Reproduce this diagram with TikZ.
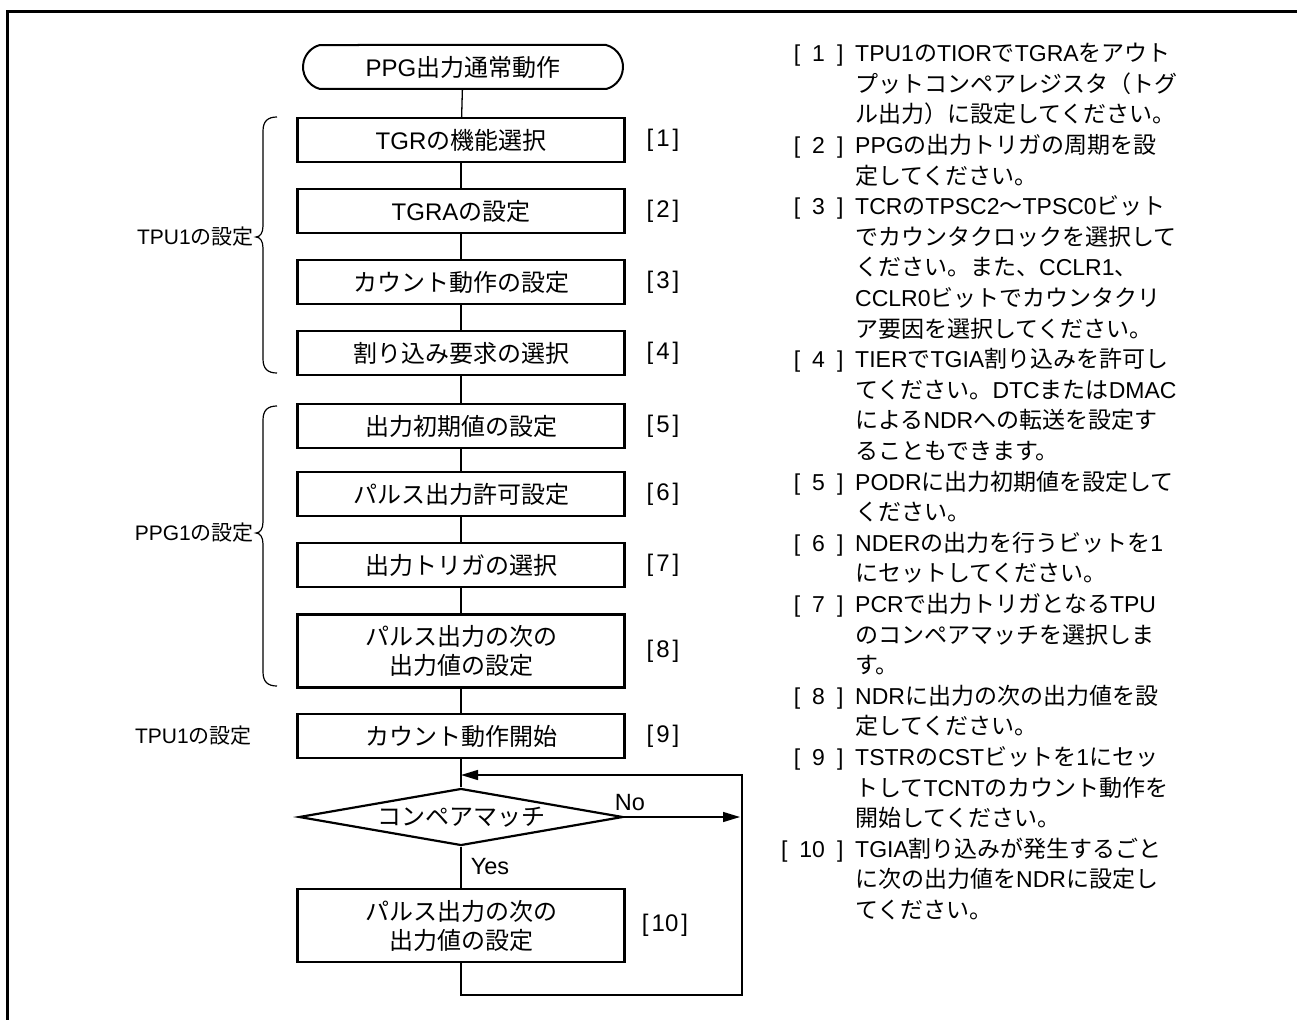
\documentclass[tikz,border=0pt]{standalone}
\usepackage{fontspec}
\setmainfont{Liberation Sans}
\newfontfamily\jpf{Noto Sans CJK JP}
\newfontfamily\latf{Liberation Sans}
\usetikzlibrary{shapes.geometric,shapes.misc,arrows.meta}
\newXeTeXintercharclass\jpcls
\newcount\cpt
\cpt="3000 \loop \XeTeXcharclass\cpt=\jpcls \advance\cpt by 1 \ifnum\cpt<"3100 \repeat
\cpt="4E00 \loop \XeTeXcharclass\cpt=\jpcls \advance\cpt by 1 \ifnum\cpt<"A000 \repeat
\cpt="FF00 \loop \XeTeXcharclass\cpt=\jpcls \advance\cpt by 1 \ifnum\cpt<"FFF0 \repeat
\XeTeXinterchartoks 0 \jpcls = {\jpf}
\XeTeXinterchartoks 4095 \jpcls = {\jpf}
\XeTeXinterchartoks \jpcls 0 = {\latf}
\XeTeXinterchartokenstate=1
\tikzset{
 box/.style={draw, line width=2.2pt, minimum width=327pt, minimum height=44pt, inner sep=0pt, align=center, font=\fontsize{24}{29}\selectfont},
 tall/.style={minimum height=73pt},
 term/.style={draw, line width=2pt, rounded rectangle, rounded rectangle arc length=150, minimum width=320pt, minimum height=44pt, inner sep=0pt, font=\fontsize{24}{29}\selectfont},
 dia/.style={draw, diamond, aspect=5.68, line width=2.2pt, minimum width=324pt, minimum height=57pt, inner sep=0pt, font=\fontsize{24}{29}\selectfont},
 conn/.style={line width=1.3pt},
 arr/.style={-{Triangle[length=17pt,width=10pt]}},
 blbl/.style={font=\fontsize{24}{29}\selectfont, inner sep=0pt},
 yn/.style={font=\fontsize{23.5}{28}\selectfont, inner sep=0pt},
 side/.style={font=\fontsize{21}{26}\selectfont, inner sep=0pt, anchor=east},
 rtxt/.style={font=\fontsize{23}{30}\selectfont, inner sep=0pt, anchor=base west},
 rlab/.style={font=\fontsize{23}{30}\selectfont, inner sep=0pt, anchor=base east},
 brc/.style={line width=1.2pt},
 frm/.style={line width=2.6pt},
}
\newcommand\rl[2]{\node[rtxt] (r#1) at (855,{61.7+30.6*#1}) {#2};}
\newcommand\rn[2]{\node[rlab] (n#1) at (843.6,{61.7+30.6*#2}) {[\kern12pt #1\kern12pt]};}
\begin{document}
\begin{tikzpicture}[x=1pt,y=-1pt]
\useasboundingbox (0,0) rectangle (1297,1019);
\clip (0,0) rectangle (1297,1019);
\draw[frm] (7.3,1040) -- (7.3,11.7) -- (1320,11.7);

% flowchart
\node[term] (t) at (463,67) {PPG出力通常動作};
\node[box] (b1) at (461,140) {TGRの機能選択};
\node[box] (b2) at (461,211) {TGRAの設定};
\node[box] (b3) at (461,282) {カウント動作の設定};
\node[box] (b4) at (461,353) {割り込み要求の選択};
\node[box] (b5) at (461,426) {出力初期値の設定};
\node[box] (b6) at (461,494) {パルス出力許可設定};
\node[box] (b7) at (461,565) {出力トリガの選択};
\node[box,tall] (b8) at (461,651) {パルス出力の次の\\出力値の設定};
\node[box] (b9) at (461,736) {カウント動作開始};
\node[dia] (dm) at (461,817) {コンペアマッチ};
\node[box,tall] (b10) at (461,925.5) {パルス出力の次の\\出力値の設定};

\node[blbl] (l1) at (663,140) {[\kern3pt 1\kern3pt]};
\node[blbl] (l2) at (663,211) {[\kern3pt 2\kern3pt]};
\node[blbl] (l3) at (663,282) {[\kern3pt 3\kern3pt]};
\node[blbl] (l4) at (663,353) {[\kern3pt 4\kern3pt]};
\node[blbl] (l5) at (663,426) {[\kern3pt 5\kern3pt]};
\node[blbl] (l6) at (663,494) {[\kern3pt 6\kern3pt]};
\node[blbl] (l7) at (663,565) {[\kern3pt 7\kern3pt]};
\node[blbl] (l8) at (663,651) {[\kern3pt 8\kern3pt]};
\node[blbl] (l9) at (663,736) {[\kern3pt 9\kern3pt]};
\node[blbl] (l10) at (665,925.5) {[\kern3pt 10\kern3pt]};

\draw[conn] (t) -- (b1);
\draw[conn] (b1) -- (b2);
\draw[conn] (b2) -- (b3);
\draw[conn] (b3) -- (b4);
\draw[conn] (b4) -- (b5);
\draw[conn] (b5) -- (b6);
\draw[conn] (b6) -- (b7);
\draw[conn] (b7) -- (b8);
\draw[conn] (b8) -- (b9);
\draw[conn] (b9) -- (dm);
\draw[conn] (dm) -- (b10);

\coordinate (ne) at (740,817);
\coordinate (lb) at (742,995);
\coordinate (lt) at (742,775);
\draw[conn,arr] (dm.east) -- (ne);
\draw[conn,arr] (b10.south) |- (lb) -- (lt) -- (lt -| b9.south);
\node[yn] (no) at (630,803) {No};
\node[yn] (yes) at (490,867) {Yes};

% braces and side labels
\draw[brc] (277,117) .. controls (268,117) and (263,121) .. (263,131) -- (263,226) .. controls (263,233) and (260,237) .. (256,237) .. controls (260,237) and (263,241) .. (263,248) -- (263,359) .. controls (263,369) and (268,373) .. (277,373);
\draw[brc] (277,406) .. controls (268,406) and (263,410) .. (263,420) -- (263,522) .. controls (263,529) and (260,533) .. (256,533) .. controls (260,533) and (263,537) .. (263,544) -- (263,672) .. controls (263,682) and (268,686) .. (277,686);
\node[side] (s1) at (254,237) {TPU1の設定};
\node[side] (s2) at (254,533) {PPG1の設定};
\node[side] (s3) at (252,736) {TPU1の設定};

% right column
\rn{1}{0}
\rl{0}{TPU1のTIORでTGRAをアウト}
\rl{1}{プットコンペアレジスタ（トグ}
\rl{2}{ル出力）に設定してください。}
\rn{2}{3}
\rl{3}{PPGの出力トリガの周期を設}
\rl{4}{定してください。}
\rn{3}{5}
\rl{5}{TCRのTPSC2～TPSC0ビット}
\rl{6}{でカウンタクロックを選択して}
\rl{7}{ください。また、CCLR1、}
\rl{8}{CCLR0ビットでカウンタクリ}
\rl{9}{ア要因を選択してください。}
\rn{4}{10}
\rl{10}{TIERでTGIA割り込みを許可し}
\rl{11}{てください。DTCまたはDMAC}
\rl{12}{によるNDRへの転送を設定す}
\rl{13}{ることもできます。}
\rn{5}{14}
\rl{14}{PODRに出力初期値を設定して}
\rl{15}{ください。}
\rn{6}{16}
\rl{16}{NDERの出力を行うビットを1}
\rl{17}{にセットしてください。}
\rn{7}{18}
\rl{18}{PCRで出力トリガとなるTPU}
\rl{19}{のコンペアマッチを選択しま}
\rl{20}{す。}
\rn{8}{21}
\rl{21}{NDRに出力の次の出力値を設}
\rl{22}{定してください。}
\rn{9}{23}
\rl{23}{TSTRのCSTビットを1にセッ}
\rl{24}{トしてTCNTのカウント動作を}
\rl{25}{開始してください。}
\rn{10}{26}
\rl{26}{TGIA割り込みが発生するごと}
\rl{27}{に次の出力値をNDRに設定し}
\rl{28}{てください。}
\end{tikzpicture}
\end{document}
